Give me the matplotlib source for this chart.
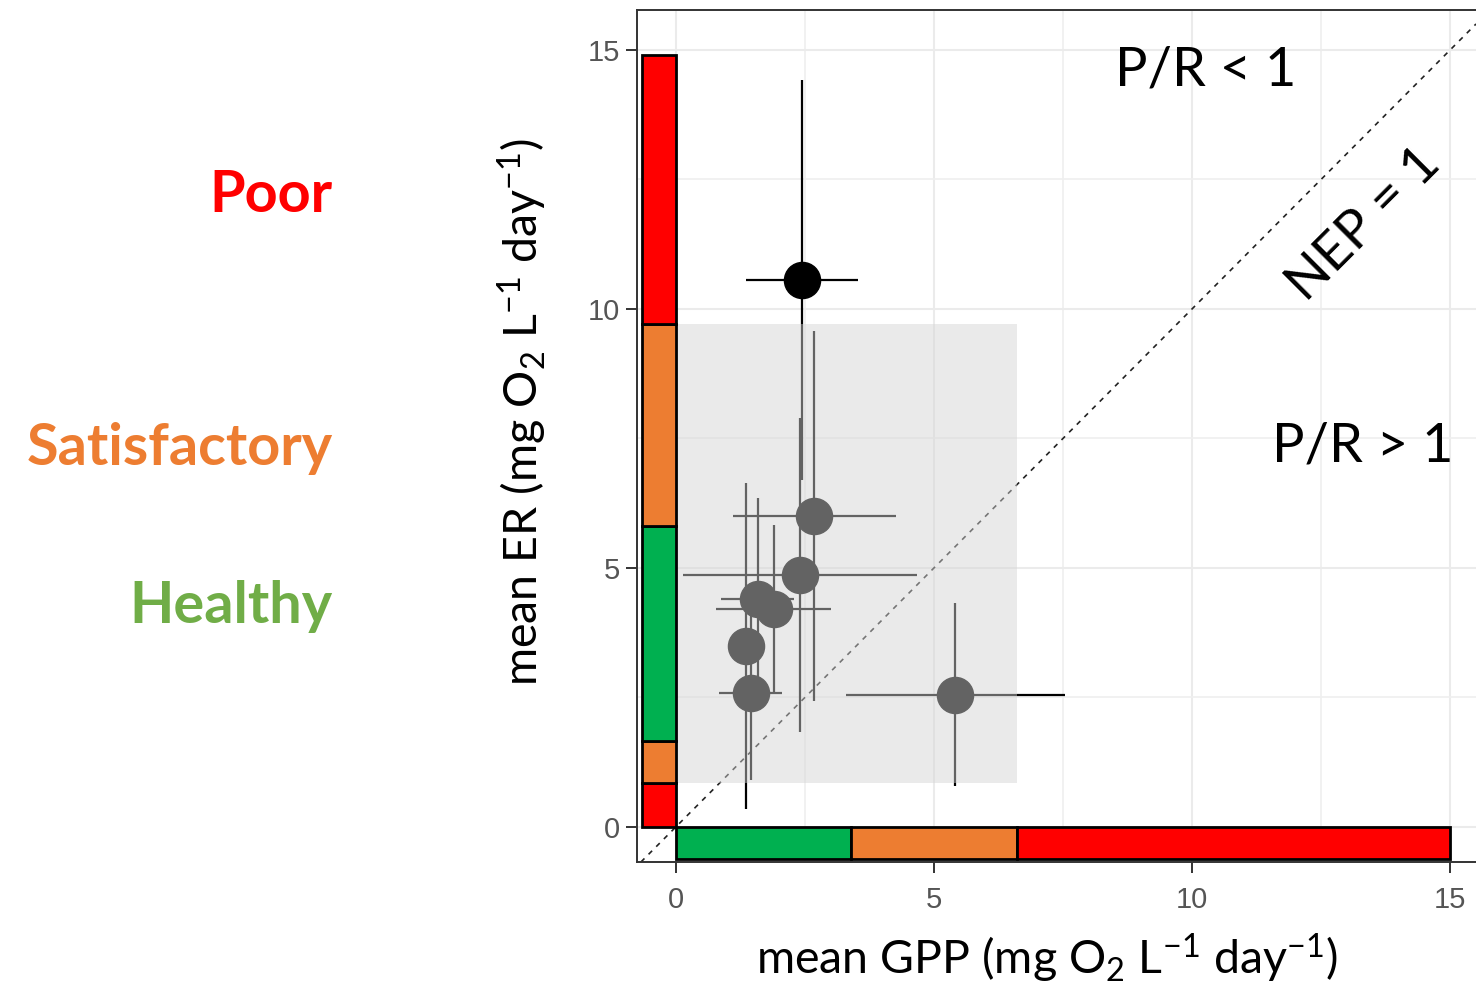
import numpy as np
import matplotlib
matplotlib.use("Agg")
import matplotlib.pyplot as plt
from matplotlib.patches import Rectangle

# шрифты: Lato вместо Calibri, Liberation Sans вместо Arial
plt.rcParams['font.family'] = ['Lato', 'DejaVu Sans']
plt.rcParams['mathtext.fontset'] = 'custom'
plt.rcParams['mathtext.rm'] = 'Lato'
plt.rcParams['mathtext.it'] = 'Lato:italic'
plt.rcParams['mathtext.bf'] = 'Lato:bold'

# данные: средние GPP и ER с погрешностями
gpp = [2.44, 2.68, 2.40, 1.58, 1.89, 1.35, 1.45, 5.41]
er = [10.56, 6.00, 4.86, 4.40, 4.20, 3.49, 2.59, 2.55]
gpp_err = [1.08, 1.58, 2.26, 0.71, 1.11, 0.20, 0.61, 2.12]
er_err = [3.86, 3.57, 3.03, 1.95, 1.62, 3.15, 1.68, 1.77]

# пороги классов (шкала по осям)
gpp_breaks = [0, 3.4, 6.6, 15.0]
gpp_colors = ['#00B050', '#ED7D31', '#FF0000']
er_breaks = [0, 0.85, 1.65, 5.8, 9.7, 14.9]
er_colors = ['#FF0000', '#ED7D31', '#00B050', '#ED7D31', '#FF0000']

status_labels = ['Poor', 'Satisfactory', 'Healthy']
status_colors = ['#FF0000', '#ED7D31', '#70AD47']

W, H = 1476, 986
fig = plt.figure(figsize=(W / 100, H / 100), dpi=100)
ax = fig.add_axes([637 / W, 124 / H, 1 - 637 / W, 852 / H])
ax.set_xlim(-0.756, 15.5)
ax.set_ylim(-0.68, 15.77)

# сетка как в theme_bw
ax.set_xticks([0, 5, 10, 15])
ax.set_yticks([0, 5, 10, 15])
ax.set_xticks([2.5, 7.5, 12.5], minor=True)
ax.set_yticks([2.5, 7.5, 12.5], minor=True)
ax.grid(True, which='major', color='#EBEBEB', lw=1.5, zorder=0)
ax.grid(True, which='minor', color='#EFEFEF', lw=1.2, zorder=0)
ax.set_axisbelow(True)
ax.tick_params(which='minor', length=0)
ax.tick_params(which='major', length=8, width=1.4, color='#333333',
               labelcolor='#555555', labelsize=21, pad=4)
ax.tick_params(axis='x', which='major', pad=9)
for lab in ax.get_xticklabels() + ax.get_yticklabels():
    lab.set_family('Liberation Sans')
for s in ['top', 'left', 'bottom']:
    ax.spines[s].set_color('#333333')
    ax.spines[s].set_linewidth(1.4)
ax.spines['right'].set_visible(False)

# линия NEP = 1
ax.axline((0, 0), slope=1, color='#222222', lw=1.2, ls=(0, (3, 3.5)), zorder=2)

# точки с погрешностями
ax.errorbar(gpp, er, xerr=gpp_err, yerr=er_err, fmt='o', color='black',
            ms=26, lw=1.6, capsize=0, zorder=3)

# полупрозрачная область "удовлетворительно и лучше"
ax.add_patch(Rectangle((gpp_breaks[0], er_breaks[1]),
                       gpp_breaks[2] - gpp_breaks[0], er_breaks[4] - er_breaks[1],
                       facecolor='#D4D4D4', alpha=0.47, lw=0, zorder=4))

# цветные шкалы вдоль осей
ax.barh(np.full(3, -0.31), np.diff(gpp_breaks), left=gpp_breaks[:-1], height=0.62,
        color=gpp_colors, edgecolor='black', lw=2, zorder=5, clip_on=False)
ax.bar(np.full(5, -0.33), np.diff(er_breaks), bottom=er_breaks[:-1], width=0.66,
       color=er_colors, edgecolor='black', lw=2, zorder=5, clip_on=False)

# подписи внутри панели
ax.text(8.5, 14.32, 'P/R < 1', fontsize=39, ha='left', va='baseline', zorder=6)
ax.text(11.55, 7.05, 'P/R > 1', fontsize=39, ha='left', va='baseline', zorder=6)
ax.text(13.33, 11.62, 'NEP = 1', fontsize=38.5, rotation=45, rotation_mode='anchor',
        ha='center', va='center', zorder=6)

# подписи осей
fig.text(1047 / W, 1 - 958 / H,
         r'mean GPP (mg O$_\mathregular{2}$ L$^\mathregular{-1}$ day$^\mathregular{-1}$)',
         fontsize=33.5, ha='center', va='center')
fig.text(522 / W, 1 - 412 / H,
         r'mean ER (mg O$_\mathregular{2}$ L$^\mathregular{-1}$ day$^\mathregular{-1}$)',
         fontsize=33.5, ha='center', va='center', rotation=90)

# классы состояния слева
label_y = [212, 465, 623]
for lab, col, yy in zip(status_labels, status_colors, label_y):
    fig.text(333 / W, 1 - yy / H, lab, fontsize=41.5, fontweight='bold', color=col,
             ha='right', va='baseline')

fig.savefig('out.png', dpi=100)
